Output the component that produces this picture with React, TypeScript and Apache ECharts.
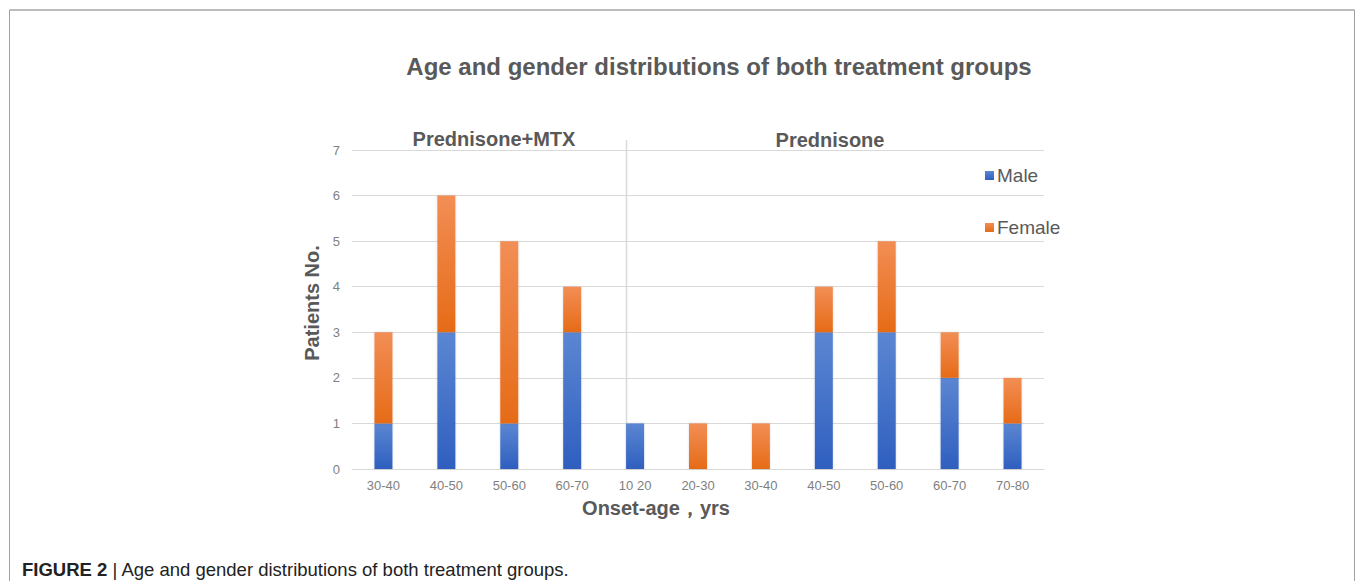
import React, { useEffect, useRef } from "react";
import * as echarts from "echarts";

const categories = ["30-40", "40-50", "50-60", "60-70", "10 20", "20-30", "30-40", "40-50", "50-60", "60-70", "70-80"];
const maleValues = [1, 3, 1, 3, 1, 0, 0, 3, 3, 2, 1];
const femaleValues = [2, 3, 4, 1, 0, 1, 1, 1, 2, 1, 1];
const yTicks = [0, 1, 2, 3, 4, 5, 6, 7];
const groupNames = ["Prednisone+MTX", "Prednisone"];

const FONT = "'Liberation Sans', Arial, sans-serif";
const BAR_W = 18;

function grad(top: string, bottom: string) {
  return new echarts.graphic.LinearGradient(0, 0, 0, 1, [
    { offset: 0, color: top },
    { offset: 1, color: bottom },
  ]);
}

export default function App() {
  const ref = useRef<HTMLDivElement>(null);
  useEffect(() => {
    if (!ref.current) return;
    const chart = echarts.init(ref.current, undefined, { renderer: "svg" });
    const option: any = {
      animation: false,
      backgroundColor: "#ffffff",
      title: {
        text: "Age and gender distributions of both treatment groups",
        left: 714,
        top: 49,
        textAlign: "center",
        textStyle: { fontFamily: FONT, fontSize: 24, fontWeight: "bold", color: "#595959" },
      },
      legend: {
        orient: "vertical",
        left: 980,
        top: 161,
        itemGap: 33,
        itemWidth: 9,
        itemHeight: 9,
        icon: "rect",
        textStyle: { fontFamily: FONT, fontSize: 19, color: "#595959", padding: [0, 0, 0, -2] },
        data: ["Male", "Female"],
      },
      grid: { left: 352, right: 311, top: 150, bottom: 112 },
      xAxis: {
        type: "category",
        data: categories,
        axisLine: { lineStyle: { color: "#d9d9d9", width: 1 } },
        axisTick: { show: false },
        axisLabel: { fontFamily: FONT, fontSize: 13, color: "#7f7f7f", margin: 10 },
      },
      yAxis: {
        type: "value",
        min: yTicks[0],
        max: yTicks[yTicks.length - 1],
        interval: 1,
        splitLine: { lineStyle: { color: "#d9d9d9", width: 1 } },
        axisLine: { show: false },
        axisTick: { show: false },
        axisLabel: { fontFamily: FONT, fontSize: 13, color: "#7f7f7f", margin: 12 },
      },
      series: [
        {
          name: "Male",
          type: "bar",
          stack: "total",
          barWidth: BAR_W,
          data: maleValues,
          itemStyle: {
            color: grad("#5b86d2", "#2f5fbf"),
            shadowColor: "rgba(0,0,0,0.15)",
            shadowBlur: 2,
          },
        },
        {
          name: "Female",
          type: "bar",
          stack: "total",
          barWidth: BAR_W,
          data: femaleValues,
          itemStyle: {
            color: grad("#f28e55", "#e66b17"),
            shadowColor: "rgba(0,0,0,0.15)",
            shadowBlur: 2,
          },
        },
      ],
    };
    chart.setOption(option);

    const c4 = chart.convertToPixel({ xAxisIndex: 0 }, 4) as number;
    const y0 = chart.convertToPixel({ yAxisIndex: 0 }, 0) as number;
    const y7 = chart.convertToPixel({ yAxisIndex: 0 }, 7) as number;
    const divX = Math.round(c4 - BAR_W / 2) + 0.5;

    const boldText = (text: string, x: number, y: number, size: number, rotation = 0) => ({
      type: "text",
      x,
      y,
      rotation,
      style: {
        text,
        fontFamily: FONT, fontSize: size, fontWeight: "bold", fill: "#595959",
        textAlign: "center", textVerticalAlign: "middle",
      },
    });

    chart.setOption({
      graphic: [
        { type: "line", shape: { x1: 9.5, y1: 10, x2: 1354.5, y2: 10 }, style: { stroke: "#bdbdbd", lineWidth: 2 } },
        { type: "line", shape: { x1: 9.5, y1: 10, x2: 9.5, y2: 581 }, style: { stroke: "#a0a0a0", lineWidth: 1 } },
        { type: "line", shape: { x1: 1354.5, y1: 10, x2: 1354.5, y2: 581 }, style: { stroke: "#a0a0a0", lineWidth: 1 } },
        { type: "line", shape: { x1: divX, y1: y7 - 10, x2: divX, y2: y0 }, style: { stroke: "#d9d9d9", lineWidth: 1.5 } },
        boldText(groupNames[0], 494, 139, 20),
        boldText(groupNames[1], 830, 140, 20),
        boldText("Onset-age，yrs", 656, 508, 20),
        boldText("Patients No.", 312, 303, 20, Math.PI / 2),
        {
          type: "text",
          x: 22,
          y: 569,
          style: {
            text: "{b|FIGURE 2} | Age and gender distributions of both treatment groups.",
            fontFamily: FONT, fontSize: 18.5, fill: "#222222",
            textVerticalAlign: "middle",
            rich: {
              b: { fontFamily: FONT, fontSize: 18.5, fontWeight: "bold", fill: "#222222" },
            },
          },
        },
      ],
    });
    return () => chart.dispose();
  }, []);
  return <div ref={ref} style={{ position: "fixed", left: 0, top: 0, width: 1355, height: 581 }} />;
}
